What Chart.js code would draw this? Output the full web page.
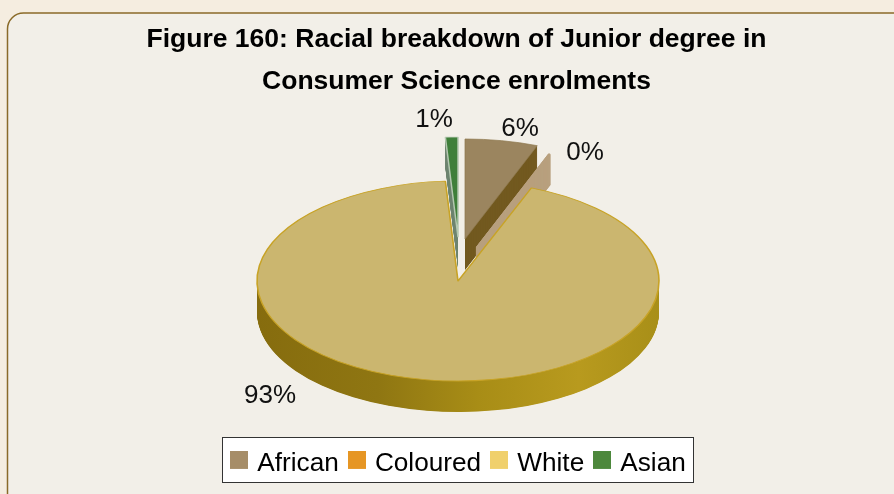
<!DOCTYPE html>
<html><head><meta charset="utf-8">
<style>html,body{margin:0;padding:0;background:#f5ede0}canvas{display:block}</style>
<script src="https://cdn.jsdelivr.net/npm/chart.js@4"></script>
</head><body>
<canvas id="c" width="894" height="494"></canvas>
<script>
const categories = ['African', 'Coloured', 'White', 'Asian'];
const values = [5.85, 0.1, 93.05, 1];
const titleLines = ['Figure 160: Racial breakdown of Junior degree in', 'Consumer Science enrolments'];
const legendColors = ['#a68d68', '#e69624', '#f0d06c', '#4d883c'];
const topColors = ['#9b855f', '#b8a07e', '#cbb66f', '#3f7f3a'];
const edgeColors = ['#8f7a50', '#b8a07e', '#c8a326', '#b4c8b0'];
const wallColors = ['#72591f', '#b8a07e', null, '#6f8570'];
const apexes = [[465, 239], [476.5, 247], [458, 281], [458, 237]];
const labelAnchors = [[520, 129], [585, 153], [270, 396], [434, 120]];
const FONT = '"Liberation Sans", Arial, sans-serif';
const RADIUS = 201, SQUASH = 100 / 201, DEPTH = 31;

function swatch(color) {
  const c = document.createElement('canvas');
  c.width = 18; c.height = 26;
  const g = c.getContext('2d');
  g.fillStyle = color;
  g.fillRect(0, 0, 18, 18);
  return c;
}
const swatches = legendColors.map(swatch);

function stamp(ctx, arc, apex, dy, opts) {
  const saved = arc.options;
  arc.options = Object.assign({offset:0, spacing:0, borderRadius:0, circular:true, borderAlign:'center',
    borderJoinStyle:'round', borderDash:[], borderDashOffset:0, borderWidth:0, borderColor:'transparent'}, opts);
  ctx.save();
  ctx.translate(apex[0], apex[1] + dy);
  ctx.scale(1, SQUASH);
  ctx.translate(-arc.x, -arc.y);
  arc.draw(ctx);
  ctx.restore();
  arc.options = saved;
}

const pie3d = {
  id: 'pie3d',
  afterLayout(chart) {
    chart.legend.left += 3.5;
    chart.legend.right += 3.5;
  },
  beforeDraw(chart) {
    const ctx = chart.ctx;
    ctx.save();
    ctx.fillStyle = '#f5ede0';
    ctx.fillRect(0, 0, 894, 494);
    ctx.beginPath();
    ctx.roundRect(7.5, 13, 960, 560, 16);
    ctx.fillStyle = '#f2efe8';
    ctx.fill();
    ctx.strokeStyle = '#8a6a28';
    ctx.lineWidth = 1.5;
    ctx.stroke();
    ctx.fillStyle = '#ffffff';
    ctx.strokeStyle = '#333333';
    ctx.lineWidth = 1;
    ctx.fillRect(222.5, 437.5, 471, 45);
    ctx.strokeRect(222.5, 437.5, 471, 45);
    ctx.restore();
  },
  beforeDatasetsDraw(chart) {
    const ctx = chart.ctx;
    const arcs = chart.getDatasetMeta(0).data;
    const total = values.reduce((a, b) => a + b, 0);
    const whiteGrad = ctx.createLinearGradient(arcs[2].x - RADIUS, 0, arcs[2].x + RADIUS, 0);
    whiteGrad.addColorStop(0, '#866c0e');
    whiteGrad.addColorStop(0.3, '#8f7612');
    whiteGrad.addColorStop(0.55, '#a88d16');
    whiteGrad.addColorStop(0.8, '#b89a1e');
    whiteGrad.addColorStop(1, '#a88f18');
    [3, 0, 1, 2].forEach(i => {
      const arc = arcs[i], apex = apexes[i];
      const wall = i === 2 ? whiteGrad : wallColors[i];
      for (let dy = DEPTH; dy > 0; dy -= 0.5) {
        stamp(ctx, arc, apex, dy, {backgroundColor: wall, borderColor: wall, borderWidth: i === 1 ? 1.4 : 0});
      }
      stamp(ctx, arc, apex, 0, {backgroundColor: topColors[i], borderColor: edgeColors[i], borderWidth: i === 2 ? 1.6 : i === 3 ? 1.5 : 1});
    });
    ctx.save();
    ctx.fillStyle = '#111111';
    ctx.font = '26px ' + FONT;
    ctx.textAlign = 'center';
    ctx.textBaseline = 'middle';
    values.forEach((v, i) => {
      ctx.fillText(Math.round(v / total * 100) + '%', labelAnchors[i][0], labelAnchors[i][1]);
    });
    ctx.restore();
    return false;
  }
};

new Chart(document.getElementById('c'), {
  type: 'pie',
  data: { labels: categories, datasets: [{ data: values, backgroundColor: legendColors, borderWidth: 0 }] },
  plugins: [pie3d],
  options: {
    responsive: false,
    animation: false,
    radius: RADIUS,
    rotation: 0,
    layout: { padding: { left: 19, right: 0, top: 19, bottom: 7 } },
    plugins: {
      tooltip: { enabled: false },
      title: {
        display: true,
        text: titleLines,
        color: '#000000',
        font: { family: FONT, size: 26.5, weight: 'bold', lineHeight: 1.585 },
        padding: { top: 0, bottom: 4 }
      },
      legend: {
        display: true,
        position: 'bottom',
        labels: {
          font: { family: FONT, size: 26.2 },
          color: '#000000',
          usePointStyle: true,
          boxWidth: 10,
          boxHeight: 18,
          padding: 13,
          generateLabels() {
            return categories.map((t, i) => ({ text: t, fillStyle: legendColors[i], strokeStyle: legendColors[i], lineWidth: 0, pointStyle: swatches[i], hidden: false, index: i }));
          }
        }
      }
    }
  }
});
</script>
</body></html>
